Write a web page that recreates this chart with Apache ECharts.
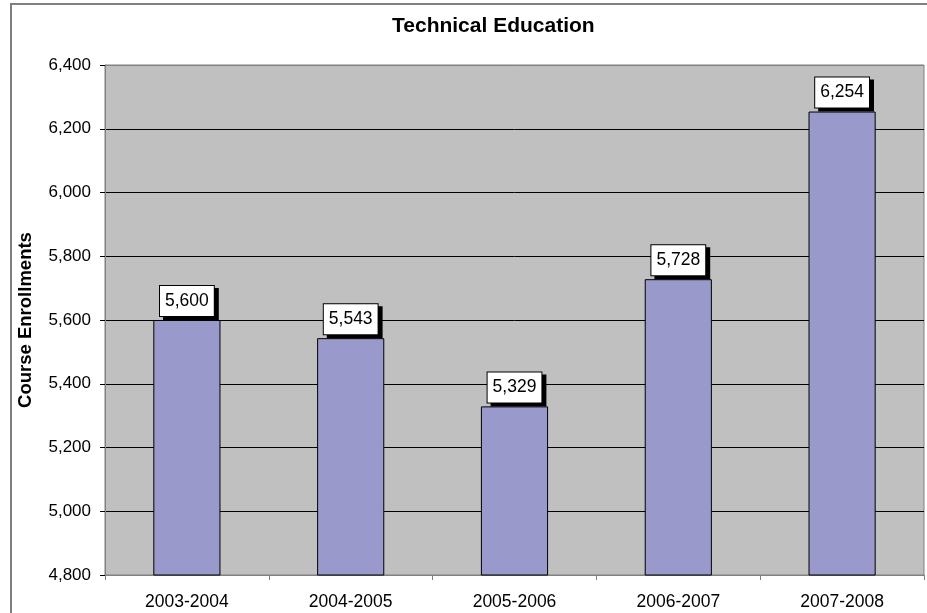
<!DOCTYPE html>
<html>
<head>
<meta charset="utf-8">
<script src="https://cdn.jsdelivr.net/npm/echarts@6/dist/echarts.min.js"></script>
<style>
  html, body { margin: 0; padding: 0; background: #fff; }
  #chart { width: 927px; height: 613px; }
</style>
</head>
<body>
<div id="chart"></div>
<script>
// Course enrollments by school year
const categories = ['2003-2004', '2004-2005', '2005-2006', '2006-2007', '2007-2008'];
const enrollments = [5600, 5543, 5329, 5728, 6254];
const yTicks = { min: 4800, max: 6400, interval: 200 };

const fmt = v => Number(v).toLocaleString('en-US');
const FONT = '"Liberation Sans", Arial, sans-serif';

// gridline colours: inner lines black, the two plot edges stay grey
const lineCount = (yTicks.max - yTicks.min) / yTicks.interval + 1;
const gridColors = Array.from({ length: lineCount }, (_, i) =>
  (i === 0 || i === lineCount - 1) ? '#808080' : '#000000');

const chart = echarts.init(document.getElementById('chart'));
chart.setOption({
  animation: false,
  backgroundColor: '#ffffff',
  textStyle: { fontFamily: FONT },
  title: {
    text: 'Technical Education',
    left: 387,
    top: 11,
    textStyle: { fontFamily: FONT, fontSize: 21, fontWeight: 'bold', color: '#000' }
  },
  graphic: [{
    type: 'rect',
    z: -1,
    shape: { x: 11, y: 4, width: 1000, height: 700 },
    style: { fill: 'none', stroke: '#808080', lineWidth: 2 }
  }],
  grid: {
    left: 105, right: 3, top: 65, bottom: 38,
    show: true,
    backgroundColor: '#C0C0C0',
    borderColor: '#808080',
    borderWidth: 1
  },
  xAxis: {
    type: 'category',
    data: categories,
    axisLine: { lineStyle: { color: '#808080', width: 1 } },
    axisTick: { show: true, alignWithLabel: false, length: 5, lineStyle: { color: '#808080' } },
    axisLabel: { color: '#000', fontSize: 17.5, fontFamily: FONT, margin: 18 },
    splitLine: { show: false }
  },
  yAxis: {
    type: 'value',
    min: yTicks.min,
    max: yTicks.max,
    interval: yTicks.interval,
    name: 'Course Enrollments',
    nameLocation: 'middle',
    nameGap: 70,
    nameRotate: 90,
    nameTextStyle: { color: '#000', fontSize: 18.5, fontWeight: 'bold', fontFamily: FONT },
    axisLine: { show: true, lineStyle: { color: '#808080', width: 1 } },
    axisTick: { show: true, length: 5, lineStyle: { color: '#000' } },
    axisLabel: { color: '#000', fontSize: 17, fontFamily: FONT, margin: 14, formatter: fmt },
    splitLine: { show: true, lineStyle: { color: gridColors, width: 1 } }
  },
  series: [{
    type: 'bar',
    data: enrollments,
    barWidth: '41%',
    itemStyle: { color: '#9999CC', borderColor: '#000', borderWidth: 1 },
    label: {
      show: true,
      position: 'top',
      distance: 4,
      formatter: p => fmt(p.value),
      color: '#000',
      fontSize: 17.5,
      fontFamily: FONT,
      lineHeight: 18,
      backgroundColor: '#fff',
      borderColor: '#000',
      borderWidth: 1,
      padding: [6, 5, 6, 5],
      shadowColor: '#000',
      shadowBlur: 0,
      shadowOffsetX: 4,
      shadowOffsetY: 3
    }
  }]
});
</script>
</body>
</html>
